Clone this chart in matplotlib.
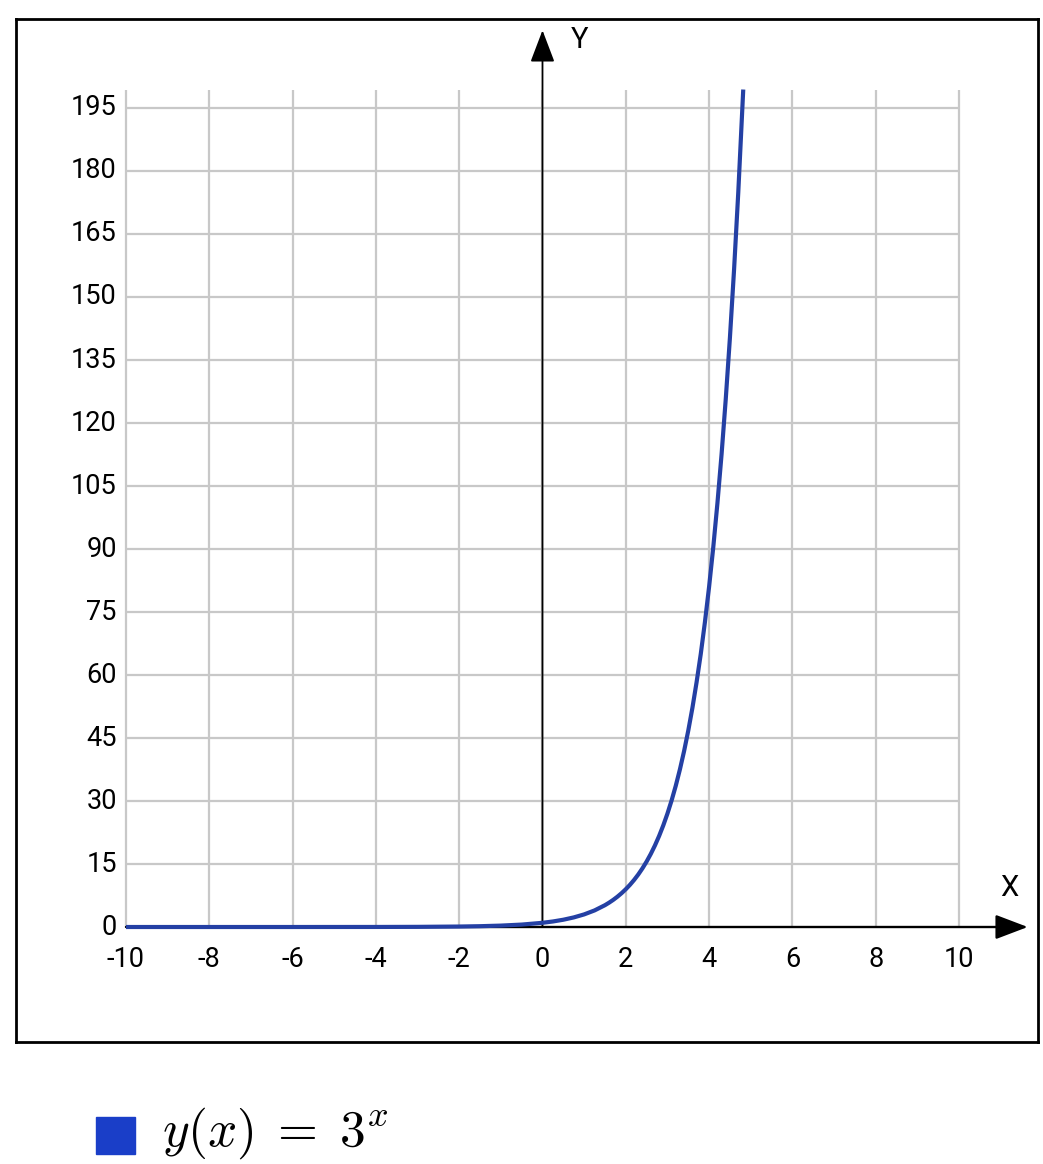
import matplotlib
matplotlib.use("Agg")
import matplotlib.pyplot as plt
from matplotlib.patches import Rectangle

plt.rcParams['font.family'] = ['Roboto', 'DejaVu Sans']
plt.rcParams['mathtext.fontset'] = 'cm'

# Data
x_vals = [-10, -8, -6, -4, -3, -2, -1.5, -1, -0.5, 0, 0.25, 0.5, 0.75, 1, 1.25,
          1.5, 1.6, 1.7, 1.8, 1.9, 2.0, 2.1, 2.2, 2.3, 2.4, 2.5, 2.6, 2.7, 2.8,
          2.9, 3.0, 3.1, 3.2, 3.3, 3.4, 3.5, 3.6, 3.7, 3.8, 3.9, 4.0,
          4.1, 4.2, 4.3, 4.4, 4.5, 4.6, 4.7, 4.82]
y_vals = [0.0000, 0.0002, 0.0014, 0.012, 0.037, 0.111, 0.192, 0.333, 0.577, 1.0,
          1.316, 1.732, 2.280, 3.0, 3.948,
          5.196, 5.800, 6.473, 7.225, 8.064, 9.0, 10.045, 11.212, 12.514, 13.967,
          15.588, 17.399, 19.419, 21.674, 24.191, 27.0, 30.135, 33.635, 37.541,
          41.900, 46.765, 52.2, 58.3, 65.0, 72.6, 81.0,
          90.4, 100.9, 112.6, 125.7, 140.3, 156.6, 174.8, 199.4]
x_ticks = [-10, -8, -6, -4, -2, 0, 2, 4, 6, 8, 10]
y_ticks = [0, 15, 30, 45, 60, 75, 90, 105, 120, 135, 150, 165, 180, 195]
legend_label = r'$y(x)\;=\;3^{x}$'

W, H = 1043, 1164
fig = plt.figure(figsize=(W / 100, H / 100), dpi=100)

# axes box in pixels: left 16, right 1038, top 19, bottom 1042
ax = fig.add_axes([16 / W, (H - 1042) / H, 1022 / W, 1023 / H])
ax.set_xlim(-12.641, 11.897)
ax.set_ylim(-27.38, 216.19)
ax.set_xticks([])
ax.set_yticks([])
for side, sp in ax.spines.items():
    sp.set_color('black')
    sp.set_linewidth(2.0)

grid_color = '#c8c8c8'
grid_top = 199.3
ax.vlines(x_ticks, 0, grid_top, colors=grid_color, linewidth=1.6, zorder=1)
ax.hlines(y_ticks[1:], x_ticks[0], x_ticks[-1], colors=grid_color, linewidth=1.6, zorder=1)

# axes with arrows
ax.annotate('', xy=(11.65, 0), xytext=(-10, 0),
            arrowprops=dict(arrowstyle='-|>,head_length=1.0,head_width=0.38',
                            mutation_scale=20, color='black', lw=1.7,
                            shrinkA=0, shrinkB=0), zorder=3)
ax.annotate('', xy=(0, 213.5), xytext=(0, 0),
            arrowprops=dict(arrowstyle='-|>,head_length=1.0,head_width=0.38',
                            mutation_scale=20, color='black', lw=1.3,
                            shrinkA=0, shrinkB=0), zorder=3)

ax.text(0.88, 211.3, 'Y', fontsize=21, ha='center', va='center')
ax.text(11.2, 9.3, 'X', fontsize=21, ha='center', va='center')

for t in y_ticks:
    ax.text(-10.22, t, str(t), fontsize=19.5, ha='right', va='center')
for t in x_ticks:
    ax.text(t, -7.8, str(t), fontsize=19.5, ha='center', va='center')

ax.plot(x_vals, y_vals, color='#2440a4', linewidth=3.0, zorder=4,
        solid_capstyle='butt')

# legend below the chart
fig.patches.append(Rectangle((96 / W, (H - 1154) / H), 39 / W, 37 / H,
                             transform=fig.transFigure, color='#1a3ec8'))
fig.text(162 / W, (H - 1133) / H, legend_label, fontsize=37, ha='left', va='center')

fig.savefig('out.png', dpi=100)
